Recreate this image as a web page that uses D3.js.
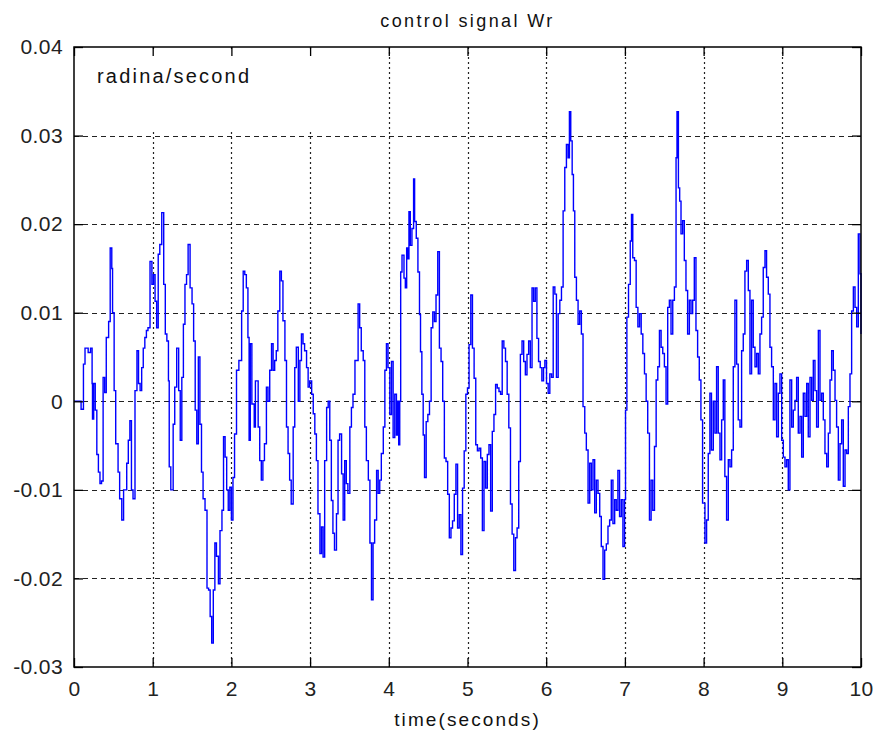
<!DOCTYPE html>
<html lang="en">
<head>
<meta charset="UTF-8">
<title>control signal Wr</title>
<style>
  body, html { margin: 0; padding: 0; background: #fff; }
  svg { display: block; font-family: 'Liberation Sans', Arial, sans-serif; }
</style>
</head>
<body>
<div id="container"></div>
<script src="https://d3js.org/d3.v7.min.js"></script>
<script>
// ---- data: [time (s), Wr (rad/s)] ----
const seg0to2 = [
  [0.00, 0], [0.05, 0], [0.09, -0.0009], [0.12, 0.0042], [0.14, 0.006], [0.18, 0.0055], [0.21, 0.006],
  [0.23, 0.002], [0.235, -0.002], [0.25, 0.002], [0.27, -0.001], [0.29, -0.006], [0.31, -0.008],
  [0.33, -0.0093], [0.35, -0.009], [0.37, 0.0027], [0.39, 0.001], [0.41, 0.0072], [0.44, 0.009],
  [0.46, 0.0173], [0.48, 0.015], [0.49, 0.010], [0.51, 0.0012], [0.53, -0.0048], [0.56, -0.008],
  [0.58, -0.011], [0.607, -0.0134], [0.63, -0.010], [0.67, -0.007], [0.69, -0.0044], [0.71, -0.0022],
  [0.73, -0.010], [0.75, -0.011], [0.775, 0.0012], [0.80, 0.0057], [0.82, 0.002], [0.84, 0.0012],
  [0.86, 0.0038], [0.88, 0.006], [0.90, 0.0072], [0.92, 0.008], [0.94, 0.0083], [0.966, 0.0158],
  [0.99, 0.0132], [1.01, 0.0143], [1.03, 0.0113], [1.05, 0.0083], [1.07, 0.0166], [1.09, 0.0177],
  [1.115, 0.0213], [1.14, 0.0132], [1.16, 0.0076], [1.18, 0.0068], [1.20, 0.0023], [1.21, -0.0074],
  [1.23, -0.010], [1.26, -0.0026], [1.28, 0.0016], [1.305, 0.006], [1.33, 0.0012], [1.35, -0.0044],
  [1.37, 0.0027], [1.39, 0.0087], [1.41, 0.0132], [1.43, 0.0143], [1.45, 0.0177], [1.475, 0.0128],
  [1.50, 0.011], [1.52, 0.0068], [1.54, -0.001], [1.56, -0.0048], [1.58, 0.005], [1.60, -0.0026],
  [1.62, -0.008], [1.64, -0.011], [1.665, -0.0123], [1.69, -0.0211], [1.71, -0.0213], [1.73, -0.0243],
  [1.75, -0.0273], [1.77, -0.0213], [1.79, -0.016], [1.81, -0.0175], [1.835, -0.0206], [1.855, -0.0146],
  [1.88, -0.0123], [1.90, -0.004], [1.92, -0.0063], [1.94, -0.010], [1.96, -0.0123]
]
const seg2to4 = [
  [1.98, -0.0097], [2.00, -0.0134], [2.02, -0.0086], [2.04, -0.0037], [2.065, 0.0035], [2.095, 0.0046],
  [2.13, 0.0102], [2.15, 0.0147], [2.17, 0.0143], [2.19, 0.0128], [2.21, 0.0072], [2.225, -0.0044],
  [2.24, 0.0065], [2.26, -0.0003], [2.29, -0.0029], [2.305, 0.0023], [2.34, -0.0029], [2.36, -0.0067],
  [2.38, -0.0089], [2.40, -0.0067], [2.42, -0.0048], [2.445, 0.0016], [2.465, 0], [2.487, 0.0035],
  [2.51, 0.0065], [2.53, 0.0035], [2.55, 0.0046], [2.57, 0.0057], [2.59, 0.0102], [2.615, 0.0147],
  [2.635, 0.0136], [2.655, 0.0091], [2.68, 0.0046], [2.70, -0.0029], [2.72, -0.0059], [2.74, -0.0089],
  [2.76, -0.0116], [2.785, -0.0029], [2.805, 0.0038], [2.825, 0.0061], [2.85, 0], [2.87, 0.0046],
  [2.89, 0.0076], [2.91, 0.0065], [2.93, 0.0057], [2.955, 0.0038], [2.975, 0.0016], [2.995, 0.0023],
  [3.02, 0.0008], [3.04, -0.0014], [3.06, -0.0037], [3.08, -0.0067], [3.10, -0.0127], [3.125, -0.0172],
  [3.145, -0.0142], [3.165, -0.0176], [3.185, -0.0067], [3.21, -0.0007], [3.23, 0], [3.25, -0.0044],
  [3.27, -0.0112], [3.29, -0.0149], [3.31, -0.0168], [3.335, -0.0127], [3.355, -0.0044], [3.375, -0.0037],
  [3.40, -0.0082], [3.42, -0.0134], [3.44, -0.0067], [3.46, -0.0093], [3.48, -0.0104], [3.505, -0.0029],
  [3.525, -0.0007], [3.545, 0.0008], [3.57, 0.0046], [3.59, 0.0046], [3.61, 0.011], [3.63, 0.0083],
  [3.65, 0.0057], [3.675, 0.0046], [3.695, -0.0029], [3.715, -0.0067], [3.74, -0.0089], [3.76, -0.016],
  [3.78, -0.0224], [3.80, -0.016], [3.82, -0.0134], [3.845, -0.0078], [3.865, -0.0104], [3.885, -0.0089],
  [3.905, -0.0059], [3.93, -0.0029], [3.95, 0.0035], [3.97, 0.0065], [3.99, 0.0038]
]
const seg4to6 = [
  [4.013, -0.0015], [4.034, 0.0045], [4.055, -0.0041], [4.076, 0.0008], [4.097, -0.0038], [4.11, 0],
  [4.126, -0.0049], [4.139, 0], [4.151, 0.0146], [4.168, 0.0165], [4.193, 0.0139], [4.21, 0.0128],
  [4.227, 0.0173], [4.244, 0.0161], [4.256, 0.0214], [4.273, 0.0176], [4.294, 0.0195], [4.315, 0.0251],
  [4.328, 0.0203], [4.349, 0.0184], [4.37, 0.0146], [4.39, 0.0098], [4.403, 0.0056], [4.42, 0.0008],
  [4.437, -0.0038], [4.454, -0.0086], [4.475, -0.0023], [4.496, -0.0015], [4.517, 0], [4.538, 0.0083],
  [4.559, 0.0101], [4.58, 0.009], [4.60, 0.012], [4.622, 0.0169], [4.643, 0.006], [4.664, 0.0045],
  [4.685, 0], [4.706, -0.0064], [4.727, -0.0068], [4.748, -0.0105], [4.769, -0.0154], [4.79, -0.0143],
  [4.81, -0.0135], [4.832, -0.0105], [4.853, -0.0071], [4.874, -0.0143], [4.895, -0.0128], [4.916, -0.0173],
  [4.937, -0.0098], [4.958, -0.0056], [4.979, 0.0008], [5.0, 0.0015], [5.02, 0.0064], [5.042, 0.012],
  [5.063, 0.006], [5.084, 0.0026], [5.105, -0.0049], [5.126, -0.0056], [5.147, -0.0053], [5.168, -0.0064],
  [5.189, -0.0146], [5.21, -0.0068], [5.231, -0.0098], [5.252, -0.006], [5.273, -0.0049], [5.294, -0.0124],
  [5.315, -0.0034], [5.336, -0.0015], [5.357, 0.0019], [5.378, 0.0015], [5.40, 0.0011], [5.42, 0.0008],
  [5.441, 0.0068], [5.462, 0.006], [5.483, 0.0045], [5.504, 0.0008], [5.525, -0.003], [5.546, -0.0116],
  [5.567, -0.015], [5.588, -0.0191], [5.61, -0.0154], [5.63, -0.0143], [5.651, -0.0068], [5.672, 0.0053],
  [5.693, 0.0068], [5.714, 0.0045], [5.735, 0.003], [5.756, 0.0053], [5.777, 0.0068], [5.798, 0.0038],
  [5.82, 0.0128], [5.84, 0.0113], [5.861, 0.0128], [5.882, 0.0071], [5.903, 0.0045], [5.924, 0.0038],
  [5.945, 0.0023], [5.966, 0.0038]
]
const seg6to8 = [
  [5.983, 0.0046], [6.004, 0.002], [6.025, 0.0009], [6.046, 0.0031], [6.068, 0.0027], [6.089, 0.0129],
  [6.11, 0.0121], [6.13, 0.0027], [6.152, 0.0099], [6.173, 0.0114], [6.194, 0.0129], [6.215, 0.0215],
  [6.236, 0.0264], [6.257, 0.029], [6.278, 0.0275], [6.295, 0.0327], [6.312, 0.0294], [6.33, 0.0256],
  [6.346, 0.0215], [6.363, 0.014], [6.384, 0.0114], [6.405, 0.0087], [6.426, 0.0102], [6.447, 0.0076],
  [6.468, -0.0006], [6.49, -0.0036], [6.51, -0.0055], [6.532, -0.0115], [6.553, -0.007], [6.574, -0.01],
  [6.595, -0.0066], [6.616, -0.0126], [6.637, -0.0089], [6.658, -0.0104], [6.68, -0.013], [6.70, -0.0164],
  [6.722, -0.0201], [6.743, -0.0168], [6.764, -0.0161], [6.785, -0.0141], [6.806, -0.0134], [6.827, -0.0089],
  [6.848, -0.0138], [6.87, -0.0111], [6.89, -0.0123], [6.911, -0.0078], [6.932, -0.013], [6.954, -0.0111],
  [6.975, -0.0164], [6.996, -0.0111], [7.008, -0.001], [7.025, 0.0095], [7.046, 0.0132], [7.068, 0.0181],
  [7.084, 0.0211], [7.10, 0.0162], [7.122, 0.0159], [7.143, 0.0106], [7.165, 0.0084], [7.186, 0.0099],
  [7.207, 0.0076], [7.228, 0.0054], [7.249, 0.0031], [7.27, 0], [7.29, -0.0036], [7.312, -0.0134],
  [7.333, -0.0089], [7.354, -0.0123], [7.376, -0.0051], [7.397, 0.0024], [7.418, 0.0039], [7.439, 0.008],
  [7.46, 0.0061], [7.481, 0.0054], [7.502, 0.0039], [7.523, -0.0003], [7.544, 0.0106], [7.565, 0.0114],
  [7.586, 0.0076], [7.608, 0.0114], [7.629, 0.0129], [7.65, 0.0275], [7.662, 0.0327], [7.68, 0.0241],
  [7.696, 0.0226], [7.713, 0.0189], [7.734, 0.0204], [7.755, 0.0159], [7.776, 0.0125], [7.797, 0.0076],
  [7.819, 0.0114], [7.84, 0.0099], [7.861, 0.0114], [7.882, 0.0162], [7.903, 0.008], [7.924, 0.005],
  [7.945, 0.0024], [7.966, -0.0021], [7.987, -0.0115]
]
const seg8to10 = [
  [8.017, -0.016], [8.038, -0.0134], [8.059, -0.0059], [8.08, 0.0009], [8.10, -0.0055], [8.123, 0],
  [8.144, -0.0036], [8.165, 0.0039], [8.186, -0.0036], [8.208, -0.0066], [8.229, -0.0021], [8.25, 0.0024],
  [8.27, -0.0085], [8.292, -0.0134], [8.314, -0.0066], [8.335, -0.0074], [8.356, -0.0055], [8.377, 0.0039],
  [8.398, 0.0114], [8.42, 0.0042], [8.44, -0.0021], [8.462, -0.0029], [8.483, 0.0057], [8.504, 0.0076],
  [8.525, 0.0147], [8.547, 0.0159], [8.568, 0.0125], [8.589, 0.0031], [8.61, 0.0114], [8.631, 0.0061],
  [8.653, 0.0039], [8.674, 0.0054], [8.695, 0.0031], [8.716, 0.0076], [8.737, 0.0095], [8.758, 0.0151],
  [8.78, 0.017], [8.80, 0.014], [8.822, 0.0121], [8.843, 0.0061], [8.864, 0.0039], [8.886, -0.0021],
  [8.907, 0.002], [8.928, -0.004], [8.95, 0.0009], [8.97, 0.0031], [8.992, -0.0044], [9.013, -0.0063],
  [9.034, -0.0074], [9.055, -0.0066], [9.076, -0.01], [9.097, 0.0024], [9.119, -0.0029], [9.14, -0.001],
  [9.161, 0.0001], [9.182, 0.0027], [9.203, -0.0036], [9.225, -0.0017], [9.246, -0.0063], [9.267, 0.0009],
  [9.288, -0.0017], [9.31, 0.002], [9.33, -0.004], [9.352, 0.0027], [9.373, 0.0001], [9.394, 0.0046],
  [9.415, 0.0012], [9.436, -0.0029], [9.458, 0.008], [9.479, 0.0001], [9.50, 0.0009], [9.521, -0.0021],
  [9.542, -0.0059], [9.564, -0.0074], [9.585, -0.0036], [9.606, 0.0024], [9.627, 0.0057], [9.648, 0.0035],
  [9.67, 0.0001], [9.69, -0.0029], [9.712, -0.0089], [9.733, -0.0048], [9.754, -0.0021], [9.775, -0.0096],
  [9.797, -0.0055], [9.818, -0.0059], [9.839, -0.0006], [9.86, 0.0031], [9.881, 0.0102], [9.903, 0.0129],
  [9.924, 0.0106], [9.945, 0.0084], [9.966, 0.0189], [9.987, 0.0144], [10.0, 0.0076]
]

const xTicks = [0, 1, 2, 3, 4, 5, 6, 7, 8, 9, 10]
const yTicks = [-0.03, -0.02, -0.01, 0, 0.01, 0.02, 0.03, 0.04]
const yTickLabels = ['-0.03', '-0.02', '-0.01', '0', '0.01', '0.02', '0.03', '0.04']
const titleText = 'control signal Wr'
const xLabelText = 'time(seconds)'
const unitText = 'radina/second'

const signal = [].concat(seg0to2, seg2to4, seg4to6, seg6to8, seg8to10)

// ---- layout ----
const W = 878, H = 736
const margin = {top: 47, right: 17, bottom: 69, left: 74}
const width = W - margin.left - margin.right
const height = H - margin.top - margin.bottom

const svg = d3.select('#container')
  .append('svg')
  .attr('width', W)
  .attr('height', H)

svg.append('rect').attr('width', W).attr('height', H).attr('fill', '#fff')

const g = svg.append('g')
  .attr('transform', `translate(${margin.left},${margin.top})`)

const x = d3.scaleLinear().domain([0, 10]).range([0, width])
const y = d3.scaleLinear().domain([-0.03, 0.04]).range([height, 0])

// grid: dashed horizontals, dotted verticals
g.append('g')
  .selectAll('line')
  .data(yTicks.slice(1, -1))
  .join('line')
  .attr('x1', 0).attr('x2', width)
  .attr('y1', d => Math.round(y(d)) + 0.5).attr('y2', d => Math.round(y(d)) + 0.5)
  .attr('stroke', '#222')
  .attr('stroke-width', 1.2)
  .attr('stroke-dasharray', '5,4')

g.append('g')
  .selectAll('line')
  .data(xTicks.slice(1, -1))
  .join('line')
  .attr('x1', d => Math.round(x(d)) + 0.5).attr('x2', d => Math.round(x(d)) + 0.5)
  .attr('y1', 0).attr('y2', height)
  .attr('stroke', '#222')
  .attr('stroke-width', 1.2)
  .attr('stroke-dasharray', '2,3')

// blank label box (hides grid behind the unit text, as in the figure)
g.append('rect')
  .attr('x', x(0.33)).attr('y', 2)
  .attr('width', x(3.28) - x(0.33)).attr('height', y(0.0304) - 2)
  .attr('fill', '#fff')

// signal
const line = d3.line()
  .x(d => x(d[0]))
  .y(d => y(d[1]))
  .curve(d3.curveStepAfter)

g.append('path')
  .datum(signal)
  .attr('fill', 'none')
  .attr('stroke', '#0000ff')
  .attr('stroke-width', 1.4)
  .attr('d', line)

// axes (ticks point inward, MATLAB style)
const fontSize = 21
const bottomAxis = d3.axisBottom(x).tickValues(xTicks).tickSizeInner(-9).tickSizeOuter(0).tickPadding(14)
const leftAxis = d3.axisLeft(y).tickValues(yTicks).tickFormat((d, i) => yTickLabels[i]).tickSizeInner(-9).tickSizeOuter(0).tickPadding(11)
const topAxis = d3.axisTop(x).tickValues(xTicks).tickSizeInner(-9).tickSizeOuter(0).tickFormat('')
const rightAxis = d3.axisRight(y).tickValues(yTicks).tickSizeInner(-9).tickSizeOuter(0).tickFormat('')

function styleAxis(sel) {
  sel.select('.domain').remove()
  sel.selectAll('line').attr('stroke', '#000').attr('stroke-width', 1.3)
  sel.selectAll('text')
    .attr('fill', '#222')
    .style('font-size', fontSize + 'px')
    .style('letter-spacing', '0.4px')
    .style('font-family', "'Liberation Sans', Arial, sans-serif")
}

g.append('g').attr('transform', `translate(0,${height})`).call(bottomAxis).call(styleAxis)
g.append('g').call(leftAxis).call(styleAxis)
g.append('g').call(topAxis).call(styleAxis)
g.append('g').attr('transform', `translate(${width},0)`).call(rightAxis).call(styleAxis)

// frame
g.append('rect')
  .attr('x', 0).attr('y', 0)
  .attr('width', width).attr('height', height)
  .attr('fill', 'none')
  .attr('stroke', '#000')
  .attr('stroke-width', 1.5)

// texts (the figure's font is wider than Liberation Sans, hence letter-spacing)
svg.append('text')
  .attr('x', margin.left + width / 2)
  .attr('y', 27)
  .attr('text-anchor', 'middle')
  .style('font-size', '18px')
  .style('letter-spacing', '2.4px')
  .attr('fill', '#111')
  .text(titleText)

svg.append('text')
  .attr('x', margin.left + width / 2)
  .attr('y', 726)
  .attr('text-anchor', 'middle')
  .style('font-size', '19px')
  .style('letter-spacing', '2.1px')
  .attr('fill', '#111')
  .text(xLabelText)

g.append('text')
  .attr('x', 23)
  .attr('y', 36)
  .style('font-size', '20px')
  .style('letter-spacing', '2.2px')
  .attr('fill', '#111')
  .text(unitText)
</script>
</body>
</html>
